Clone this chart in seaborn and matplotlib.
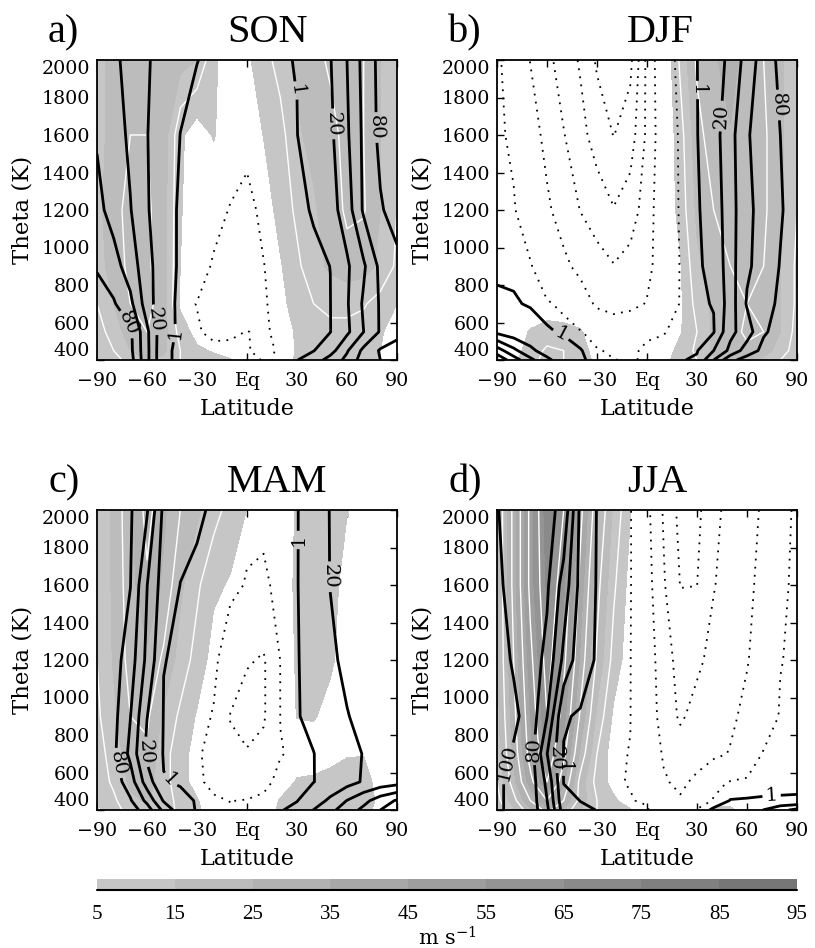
import matplotlib
matplotlib.use("Agg")
import matplotlib.pyplot as plt
import numpy as np
import seaborn as sns

# Grid: latitude (deg) across, potential temperature (K) upward
lats = [-90, -80, -70, -60, -50, -40, -30, -20, -10, 0, 10, 20, 30, 40, 50, 60, 70, 80, 90]
thetas = [400, 450, 550, 700, 900, 1200, 1600, 2000]

# Wind speed (m/s), one row per theta level, bottom to top
son_wind = [
    [5, 8, 12, 15, 14, 10, 8, 6.5, 5.5, 2, 1, 3, 5.5, 7, 7, 7, 6, 5, 2],
    [6, 10, 15, 18, 16, 10, 6, 4.5, 2, 1, 1, 2, 5.5, 7, 8, 8, 7, 5, 2],
    [8, 12, 18, 20, 17, 8, 3, 0, 0, 0, 0, 1, 6, 8, 9, 9, 8, 5.5, 3],
    [10, 15, 20, 22, 17, 4, 0, 0, 0, 0, 0, 3, 8, 10, 11, 11, 10.5, 8, 5],
    [12, 18, 21, 21, 17, 5, 0, 0, 0, 0, 1, 4.5, 9, 13, 16, 18, 17, 14, 9],
    [13, 19, 21, 21, 17, 5.5, 1, 0, 0, 0, 2, 7, 11, 14.5, 17, 21, 20.5, 15, 10],
    [12, 18, 20, 20, 18, 6, 2, 5.5, 1, 1, 5.2, 8, 14.5, 16, 19, 21, 20, 15, 10],
    [12, 18, 20, 20, 19, 17, 15, 6, 2, 4, 8, 12, 15.5, 19, 20.5, 24, 20, 15, 11],
]
son_q = [
    [95, 92, 88, 45, 2, 0, 0, 0, -0.5, -0.5, -1.1, -0.9, 0.5, 10, 28, 45, 70, 80, 85],
    [92, 90, 85, 45, 2, 0, 0, -0.5, -0.6, -0.9, -1.4, -0.8, 0.3, 0.5, 12, 38, 65, 82, 88],
    [90, 88, 84, 44, 4, -0.3, -0.8, -1.5, -1.3, -0.95, -1.3, -0.5, 0, 0, 0.7, 16, 40, 62, 74],
    [85, 82, 65, 30, 4, -0.5, -1.05, -1.8, -2, -2, -1.2, -0.3, -0.3, -0.3, 0.8, 18, 43, 62, 72],
    [79, 68, 50, 28, 5, -0.2, -0.2, -1.2, -1.8, -2, -1.05, -0.2, -0.2, -0.2, 1.05, 17, 37, 65, 75],
    [66, 52, 41, 22, 6, -0.5, 0, -0.4, -1.1, -1.5, -0.6, 0, -0.3, 1.5, 12, 30, 63, 78, 88],
    [58, 50, 36, 20.5, 11, 0.8, 0.2, 0.2, 0, -0.5, 0, 0.2, 0.8, 7, 16, 37, 64, 85, 95],
    [55, 45, 32, 22, 12, 6, 1.05, 0.5, 0.2, 0.2, 0.2, 0.5, 1.2, 8, 19, 40, 66, 86, 95],
]

djf_wind = [
    [2, 4, 8, 12, 10, 7, 4, 2, 1, 1, 3, 8, 10, 14, 16, 16, 14, 10, 6],
    [1, 3, 7, 11, 10, 7, 3, 1, 0, 0, 2, 7, 11, 16, 18, 19, 17, 13, 7],
    [0, 2, 5.5, 7, 6.5, 5.5, 2, 0, 0, 0, 1, 4.5, 10, 16, 18, 21, 20, 15, 8],
    [0, 0, 1, 2, 2, 1, 0, 0, 0, 0, 0, 4, 12, 16, 18, 20, 19, 15, 9],
    [0, 0, 0, 0, 0, 0, 0, 0, 0, 0, 0, 4.5, 14, 17, 20, 21, 20, 15, 9],
    [0, 0, 0, 0, 0, 0, 0, 0, 0, 0, 0, 7, 16, 20, 22, 23, 21, 16, 10],
    [0, 0, 0, 0, 0, 0, 0, 0, 0, 0, 0, 8, 18, 23, 24.5, 24, 21, 16, 10],
    [0, 0, 0, 0, 0, 0, 0, 0, 0, 0, 0, 11, 21, 24, 28, 22, 20, 16, 10],
]
djf_q = [
    [95, 70, 45, 25, 8, 1.5, 0, -0.8, -1.6, -0.2, 0, 0, 3, 40, 75, 88, 92, 94, 95],
    [70, 45, 25, 10, 3, 1.2, -0.5, -2, -1.5, -0.5, 0, 0, 0, 20, 45, 70, 85, 90, 94],
    [15, 8, 4, 1.5, 0.5, -0.5, -4, -8, -5, -1.5, -1.2, 0, -0.5, 0, 35, 50, 78, 86, 92],
    [2, 1.5, 0.5, -0.5, -2, -10, -23, -27, -25, -19, -8, -0.5, -0.5, 1.5, 30, 62, 72, 84, 92],
    [0, 0, -0.5, -5, -16, -25, -32, -39, -33, -25, -10, -0.5, -0.5, 4, 32, 57, 68, 81, 90],
    [0, -0.5, -5, -17, -28, -40.5, -50, -59, -50, -30, -5, -0.5, -0.5, 8, 32, 55, 68, 78, 90],
    [0, -2, -12, -25, -39, -54, -68, -80.5, -70, -36, -5, -0.3, 0.5, 12, 33, 58, 70, 80, 92],
    [0, -4, -20.5, -34, -50, -62, -83, -92, -85, -35, -3, 0, 0.8, 10, 25, 48, 70, 84, 95],
]

mam_wind = [
    [4, 8, 12, 14, 12, 9, 6, 2, 0, 0, 2, 6, 8, 9, 9, 8, 6, 4, 2],
    [5, 9, 14, 15.5, 13, 8, 5.5, 1, 0, 0, 1, 5.5, 7, 8, 8, 8, 7, 4, 1],
    [7, 11, 16, 17, 12, 7, 3, 0, 0, 0, 0, 2, 5.5, 6, 7, 8, 7, 3, 0],
    [8, 12, 18, 19, 12, 7, 3, 0, 0, 0, 0, 0, 2, 2, 3, 4.5, 4.8, 2, 0],
    [9, 14, 20, 21, 14, 9, 4.5, 1, 0, 0, 0, 1, 5.2, 5.5, 3, 1, 0, 0, 0],
    [10, 15.5, 22, 24, 19, 13, 8, 3, 0, 0, 0, 2, 5.5, 7, 6, 2, 0, 0, 0],
    [10, 16, 23, 29, 24, 16, 11, 6, 4.5, 1, 0, 2, 6, 8, 7, 3, 0, 0, 0],
    [10, 16, 24, 32, 26, 20, 16, 12, 8, 4.9, 1, 2, 5.5, 8, 8, 5.2, 1, 0, 0],
]
mam_q = [
    [95, 93, 90, 70, 35, 8, 0, 0, -0.5, -0.3, 0, 0, 5, 20.5, 35, 50, 65, 80, 95],
    [95, 92, 82, 55, 18, 3, 0.5, -0.5, -1.1, -0.8, -0.3, 0, 0.5, 10, 24, 40.5, 54, 70, 82],
    [95, 90, 70, 30, 1.5, 0.3, -0.3, -2, -5, -4, -2, 0, 0, 0.8, 5, 13, 22, 28, 32],
    [95, 84, 55, 15, 0.2, 0, -0.2, -3, -15, -18, -15, -1.2, -0.3, 0.8, 6, 12, 21, 24, 26],
    [95, 86, 60.5, 20.5, 0.5, 0, 0, -1.2, -21, -30, -22, -0.9, 0.3, 4, 10, 19, 26, 28, 29],
    [95, 88, 70, 35, 1.2, 0, 0, -0.3, -3, -18, -22, -0.8, 0.4, 5, 16, 25, 29, 31, 32],
    [95, 90, 80.5, 40.5, 10, 0.8, 0, 0, -0.3, -1.2, -1.5, -0.2, 0.5, 8, 20.5, 26, 30, 32, 33],
    [95, 90, 82, 62, 15, 6, 1.8, 0.3, 0, -0.3, -0.3, 0, 0.6, 6, 21, 30, 35, 38, 39],
]

jja_wind = [
    [6, 14, 24, 32, 24, 15, 10, 7, 5.5, 1, 0, 0, 3, 6, 6, 3, 0, 0, 0],
    [8, 18, 30, 40, 30, 18, 10, 6, 2, 0, 0, 0, 1, 3, 3, 1, 0, 0, 0],
    [10, 23, 38, 50, 36, 18, 8, 3, 0, 0, 0, 0, 0, 0, 0, 0, 0, 0, 0],
    [12, 26, 43, 56, 42, 24, 10, 2, 0, 0, 0, 0, 0, 0, 0, 0, 0, 0, 0],
    [13, 28, 45, 60, 47, 29, 14, 4, 1, 0, 0, 0, 0, 0, 0, 0, 0, 0, 0],
    [14, 30, 48, 63, 52, 34, 19, 8, 2, 0, 0, 0, 0, 0, 0, 0, 0, 0, 0],
    [14, 32, 52, 66, 56, 38, 22, 11, 3, 0, 0, 0, 0, 0, 0, 0, 0, 0, 0],
    [14, 32, 52, 68, 60, 42, 26, 14, 5.2, 0, 0, 0, 0, 0, 0, 0, 0, 0, 0],
]
jja_q = [
    [102, 97, 92, 65, 10, 3, 0.8, 0, -0.3, -0.5, -5, -8, -0.5, 1.5, 5, 10, 20.5, 35, 45],
    [102, 97, 92, 60.5, 5, 0.8, 0.3, 0, -0.8, -1.5, -12, -18, -5, -0.5, 1.1, 1.2, 1.3, 1.4, 1.5],
    [102, 97, 92, 55, 0.5, 0, 0, -0.6, -1.2, -4, -18, -24, -16, -3, -0.5, -0.3, 0, 0, 0],
    [105, 98, 90, 40.5, 0.5, 0, 0, -0.5, -1.1, -6, -22, -30, -28, -24, -19, -5, -0.5, 0, 0],
    [115, 104, 92, 60.5, 2, -0.2, -0.2, -0.5, -0.9, -8, -28, -43, -33, -28, -23, -16, -5, -0.5, 0],
    [108, 98, 90, 75, 35, 8, -0.5, -0.5, -0.8, -10, -30, -48, -44, -34, -27, -21, -12, -1.2, 0],
    [104, 93, 88, 83, 52, 14, 0, -0.3, -0.5, -12, -38, -60.5, -60.2, -41, -32, -23, -16, -2, 0],
    [101, 92, 86, 85, 75, 15, 0.5, 0, -0.3, -15, -42, -66, -65, -45, -34, -25, -18, -3, 0],
]

speed_bounds = [5, 15, 25, 35, 45, 55, 65, 75, 85, 95]
speed_isolines = [10, 20, 30, 40, 50, 60, 70, 80, 90]
q_plain = [40, 60]
q_labelled = [1, 20, 80, 100]
q_negative = [-80, -60, -40, -20, -1]

lat_ticks = [-90, -60, -30, 0, 30, 60, 90]
lat_names = ["\u221290", "\u221260", "\u221230", "Eq", "30", "60", "90"]
theta_ticks = [400, 600, 800, 1000, 1200, 1400, 1600, 1800, 2000]

panels = [
    dict(tag="a)", season="SON", wind=son_wind, q=son_q, left=97, top=60,
         spots=[(31.8, 1840), (54.8, 1660), (77.8, 1640), (-69.2, 604), (-56.2, 613), (-47.2, 549)]),
    dict(tag="b)", season="DJF", wind=djf_wind, q=djf_q, left=497, top=60,
         spots=[(30.8, 1840), (45.8, 1700), (78.8, 1760), (-52.2, 524)]),
    dict(tag="c)", season="MAM", wind=mam_wind, q=mam_q, left=97, top=510,
         spots=[(33.8, 1840), (49.8, 1644), (-78.2, 649), (-64.2, 711), (-46.0, 560)]),
    dict(tag="d)", season="JJA", wind=jja_wind, q=jja_q, left=497, top=510,
         spots=[(-83.2, 649), (-66.2, 720), (-58.2, 676), (-51.2, 631), (74.8, 471)]),
]

sns.set_style("ticks")
plt.rcParams["font.family"] = ["DejaVu Serif"]
plt.rcParams["mathtext.fontset"] = "dejavuserif"
plt.rcParams["text.color"] = "black"
plt.rcParams["axes.labelcolor"] = "black"

W_PX, H_PX = 815, 948
fig = plt.figure(figsize=(W_PX / 100, H_PX / 100), dpi=100)


def place(left, top, width, height):
    return fig.add_axes([left / W_PX, 1 - (top + height) / H_PX, width / W_PX, height / H_PX])


greys = sns.blend_palette(["#c6c6c6", "#767676"], len(speed_bounds) - 1)
title_font = dict(family="Liberation Serif", fontsize=29, color="black")

filled = None
for p in panels:
    ax = place(p["left"], p["top"], 300, 300)
    wind = np.array(p["wind"], dtype=float)
    q = np.array(p["q"], dtype=float)

    filled = ax.contourf(lats, thetas, wind, levels=speed_bounds, colors=greys)
    ax.contour(lats, thetas, wind, levels=speed_isolines, colors="white", linewidths=1.0)
    neg = ax.contour(lats, thetas, q, levels=q_negative, colors="black", linewidths=1.3)
    neg.set_linestyle((0, (1, 3.5)))
    ax.contour(lats, thetas, q, levels=q_plain, colors="black",
               linewidths=2.0, linestyles="solid")
    lab = ax.contour(lats, thetas, q, levels=q_labelled, colors="black",
                     linewidths=2.0, linestyles="solid")
    ax.clabel(lab, manual=p["spots"], fmt="%d", fontsize=14, inline=True, inline_spacing=3)

    ax.set_xlim(-90, 90)
    ax.set_ylim(400, 2000)
    ax.set_xticks(lat_ticks, lat_names)
    ax.set_yticks(theta_ticks)
    ax.tick_params(direction="in", top=True, right=True, length=5, width=1.0,
                   labelsize=13.7, colors="black")
    ax.tick_params(axis="x", pad=9)
    ax.tick_params(axis="y", pad=5)
    ylabels = ax.get_yticklabels()
    ylabels[0].set_va("bottom")
    ylabels[-1].set_va("top")
    for s in ax.spines.values():
        s.set_linewidth(1.3)
        s.set_color("black")

    ax.set_xlabel("Latitude", fontsize=16)
    ax.xaxis.set_label_coords(0.5, -49 / 300)
    ax.xaxis.label.set_va("center")
    ax.set_ylabel("Theta (K)", fontsize=16.5)
    ax.yaxis.set_label_coords(-(97 - 22) / 300, 0.5)
    ax.yaxis.label.set_va("center")

    y_title = 1 - (p["top"] - 18) / H_PX
    fig.text((p["left"] - 49) / W_PX, y_title, p["tag"], va="baseline", **title_font)
    fig.text((p["left"] + 130) / W_PX, y_title, p["season"], va="baseline", **title_font)

# Shared colour key for the wind-speed shading
cax = place(97, 879, 700, 11)
cb = fig.colorbar(filled, cax=cax, orientation="horizontal", ticks=speed_bounds)
cb.outline.set_visible(False)
cax.tick_params(length=0, labelsize=15, pad=11, colors="black")
for t in cax.get_xticklabels():
    t.set_family("Liberation Serif")
cax.plot([0, 1], [0, 0], transform=cax.transAxes, color="black", lw=1.5, clip_on=False)
fig.text(447 / W_PX, 1 - 938 / H_PX, "m s$^{-1}$", ha="center", va="center", fontsize=15)

fig.savefig("out.png", dpi=100)
